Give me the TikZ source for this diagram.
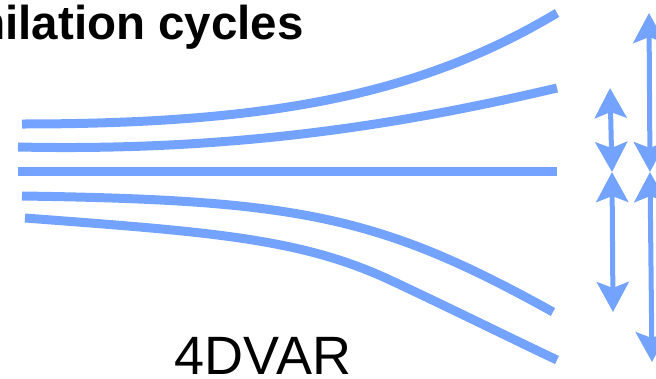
\documentclass[tikz,border=0pt]{standalone}
\usepackage{fontspec}
\setmainfont{Liberation Sans}
\usetikzlibrary{arrows.meta}
\definecolor{flow}{RGB}{115,163,255}
\tikzset{
  traj/.style={draw=flow, line width=9pt, line cap=butt},
  sprd/.style={draw=flow, line width=5pt, {Stealth[length=30pt,width=32pt,inset=6pt]}-{Stealth[length=30pt,width=32pt,inset=6pt]}},
}
\begin{document}
\begin{tikzpicture}[x=1pt,y=-1pt]
\useasboundingbox (0,0) rectangle (656,378);
% title (cut off at the left edge)
\node[anchor=base east, inner sep=0pt, font=\fontsize{47.5}{52}\selectfont\bfseries] (title) at (304,39) {Assimilation cycles};
% trajectories
\draw[traj] (22,124) .. controls (270,124) and (420,95) .. (557,13);
\draw[traj] (18,147) .. controls (250,152) and (420,120) .. (557,88);
\draw[traj] (18,171) -- (557,171);
\draw[traj] (22,196) .. controls (300,200) and (380,216) .. (553,312);
\draw[traj] (25,218) .. controls (210,232) and (300,238) .. (390,280) .. controls (450,308) and (500,333) .. (557,360);
% spread arrows
\coordinate (a1) at (610,88);
\coordinate (a2) at (612,172);
\coordinate (a3) at (613,312);
\coordinate (b1) at (649,13);
\coordinate (b2) at (650,172);
\coordinate (b3) at (652,362);
\draw[sprd] (a1) -- (a2);
\draw[sprd] (a2) -- (a3);
\draw[sprd] (b1) -- (b2);
\draw[sprd] (b2) -- (b3);
% label
\node[anchor=base, inner sep=0pt, font=\fontsize{54}{58}\selectfont] (lbl) at (263,374) {4DVAR};
\end{tikzpicture}
\end{document}
